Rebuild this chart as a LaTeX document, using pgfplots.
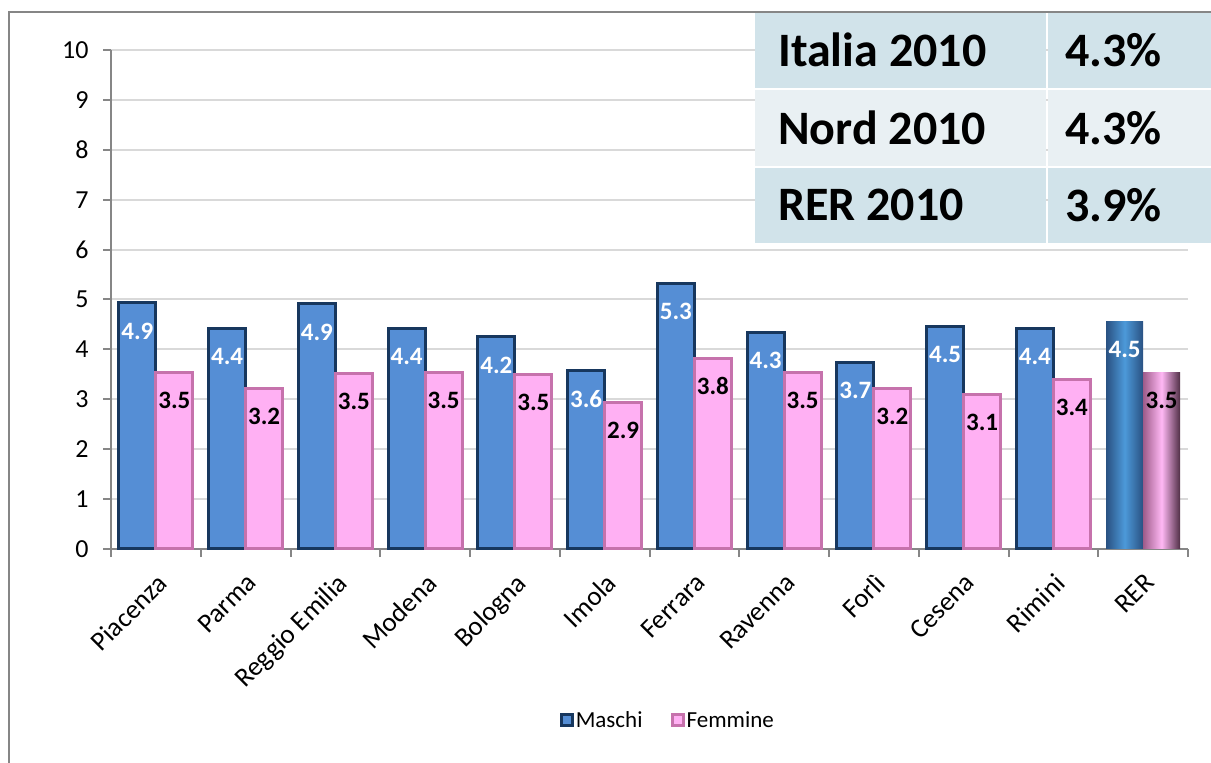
\documentclass[border=0pt]{standalone}
\usepackage{fontspec}
\setmainfont{Carlito}
\usepackage{pgfplots}
\pgfplotsset{compat=1.18}
\usepackage{pgfplotstable}

\definecolor{mblue}{RGB}{85,142,213}
\definecolor{mbluedark}{RGB}{23,55,94}
\definecolor{fpink}{RGB}{255,176,243}
\definecolor{fpinkdark}{RGB}{198,114,172}
\definecolor{axgray}{RGB}{134,134,134}
\definecolor{gridgray}{RGB}{217,217,217}
\definecolor{tabA}{RGB}{209,227,234}
\definecolor{tabB}{RGB}{233,240,243}

\pgfplotstableread{
x y label
0 4.93 4.9
1 4.41 4.4
2 4.91 4.9
3 4.41 4.4
4 4.25 4.2
5 3.57 3.6
6 5.33 5.3
7 4.34 4.3
8 3.74 3.7
9 4.45 4.5
10 4.41 4.4
}\maschi
\pgfplotstableread{
x y label
11 4.55 4.5
}\maschiRER
\pgfplotstableread{
x y label
0 3.53 3.5
1 3.21 3.2
2 3.51 3.5
3 3.53 3.5
4 3.49 3.5
5 2.93 2.9
6 3.82 3.8
7 3.54 3.5
8 3.22 3.2
9 3.09 3.1
10 3.39 3.4
}\femmine
\pgfplotstableread{
x y label
11 3.53 3.5
}\femmineRER

\begin{document}
\begin{tikzpicture}[x=1pt,y=1pt]
\useasboundingbox (0,0) rectangle (1211,763);
% outer frame
\draw[axgray, line width=2pt] (9,0) -- (9,751) -- (1211,751);
\begin{axis}[
  at={(111pt,214pt)}, anchor=south west,
  scale only axis, width=1077pt, height=499pt,
  xmin=-0.5, xmax=11.5, ymin=0, ymax=10,
  ytick={0,1,2,3,4,5,6,7,8,9,10},
  yticklabels={0,1,2,3,4,5,6,7,8,9,10},
  xtick={0,...,11},
  xticklabels={Piacenza,Parma,Reggio Emilia,Modena,Bologna,Imola,Ferrara,Ravenna,Forlì,Cesena,Rimini,RER},
  minor xtick={-0.5,0.5,...,11.5},
  major x tick style={draw=none},
  minor x tick style={draw=axgray, line width=2pt},
  major y tick style={draw=axgray, line width=2pt},
  tick align=outside, major tick length=8pt, minor tick length=8pt,
  axis x line*=bottom, axis y line*=left,
  axis line style={draw=axgray, line width=2.5pt, -},
  ymajorgrids, grid style={draw=gridgray, line width=2pt},
  /pgf/number format/assume math mode=true,
  yticklabel style={font=\fontsize{26}{30}\selectfont, xshift=-11pt},
  xticklabel style={font=\fontsize{27}{30}\selectfont, yshift=-12pt, rotate=45, anchor=north east, inner sep=2pt},
  ybar=0pt, bar width=37pt,
  point meta=explicit symbolic,
  nodes near coords,
  every node near coord/.append style={font=\bfseries\fontsize{25}{28}\selectfont, anchor=center, yshift=-28pt},
  legend style={at={(0.517,-0.343)}, anchor=center, draw=none, legend columns=2,
    font=\fontsize{23}{26}\selectfont, /tikz/every even column/.append style={column sep=26pt}},
  legend image code/.code={\draw[#1, line width=3pt] (0pt,-5.5pt) rectangle (11pt,5.5pt);},
  clip=false,
]
\addplot[fill=mblue, draw=mbluedark, line width=3pt, bar shift=-18.5pt,
  every node near coord/.append style={text=white}] table[x=x,y=y,meta=label] {\maschi};
\addlegendentry{Maschi}
\addplot[fill=fpink, draw=fpinkdark, line width=3pt, bar shift=18.5pt,
  every node near coord/.append style={text=black}] table[x=x,y=y,meta=label] {\femmine};
\addlegendentry{Femmine}
\addplot[forget plot, draw=none, left color=mbluedark!70!mblue, right color=mbluedark!70!mblue, middle color=mblue!90!cyan, bar shift=-18.5pt,
  every node near coord/.append style={text=white}] table[x=x,y=y,meta=label] {\maschiRER};
\addplot[forget plot, draw=none, left color=fpinkdark!80!black, right color=fpinkdark!40!black, middle color=fpink!90!white, bar shift=18.5pt,
  every node near coord/.append style={text=black}] table[x=x,y=y,meta=label] {\femmineRER};
\end{axis}
% table
\fill[tabA] (755,763-13) rectangle (1046,763-88);
\fill[tabA] (1048,763-13) rectangle (1211,763-88);
\fill[tabB] (755,763-90) rectangle (1046,763-166);
\fill[tabB] (1048,763-90) rectangle (1211,763-166);
\fill[tabA] (755,763-168) rectangle (1046,763-243);
\fill[tabA] (1048,763-168) rectangle (1211,763-243);
\begin{scope}[every node/.style={font=\bfseries\fontsize{48}{52}\selectfont, anchor=west, inner sep=0pt}]
\node at (778,763-50) {Italia 2010};
\node at (1065,763-50) {4.3\%};
\node at (778,763-128) {Nord 2010};
\node at (1065,763-128) {4.3\%};
\node at (778,763-205) {RER 2010};
\node at (1065,763-205) {3.9\%};
\end{scope}
\end{tikzpicture}
\end{document}
